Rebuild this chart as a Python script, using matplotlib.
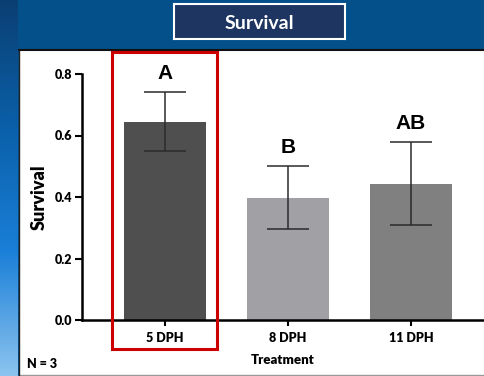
import numpy as np
import matplotlib
matplotlib.use("Agg")
import matplotlib.pyplot as plt
from matplotlib.patches import Rectangle

# data
treatments = ["5 DPH", "8 DPH", "11 DPH"]
survival = [0.645, 0.398, 0.443]
survival_err = [0.096, 0.102, 0.135]
letters = ["A", "B", "AB"]
bar_colors = ["#4f4f4f", "#a1a1a5", "#808080"]

W, H = 484, 376
UI_FONT = "Lato"
fig = plt.figure(figsize=(W / 100, H / 100), dpi=100)
fig.patch.set_facecolor("#03508b")


def px(x, y, w, h):
    """pixel box (top-left origin) -> figure fraction rect"""
    return [x / W, 1 - (y + h) / H, w / W, h / H]


# white slide panel with a dark top edge
bg = fig.add_axes([0, 0, 1, 1], zorder=-5)
bg.set_xlim(0, W)
bg.set_ylim(H, 0)
bg.axis("off")
bg.add_patch(Rectangle((19, 50), W, 330, facecolor="white", edgecolor="none"))
bg.plot([19, W], [50, 50], color="#111111", lw=1.5)
bg.plot([19, W], [375, 375], color="#999999", lw=1)
bg.plot([18.5, 18.5], [50, H], color="#222222", lw=1)

# left gradient strip
strip = fig.add_axes(px(0, 0, 18, H), zorder=-4)
grad = np.linspace(0, 1, 256)[:, None]
cmap = matplotlib.colors.LinearSegmentedColormap.from_list(
    "strip", ["#0a3f73", "#0a5fa8", "#1a7fd8", "#8cc4ef"])
strip.imshow(grad, aspect="auto", cmap=cmap, extent=[0, 1, 1, 0])
strip.axis("off")

# title box
tb = fig.add_axes(px(174, 4, 171, 35), zorder=2)
tb.set_xticks([])
tb.set_yticks([])
tb.set_facecolor("#1f3561")
for s in tb.spines.values():
    s.set_color("white")
    s.set_linewidth(1.5)
tb.text(0.5, 0.44, "Survival", color="white", fontsize=14, fontweight="bold",
        family=UI_FONT, ha="center", va="center", transform=tb.transAxes)

# main chart
ax = fig.add_axes([82 / W, 1 - 320 / H, 1 - 82 / W, (320 - 74) / H])
ax.set_facecolor("none")
x = np.arange(len(treatments))
ax.bar(x, survival, width=0.667, color=bar_colors, zorder=2)
ax.errorbar(x, survival, yerr=survival_err, fmt="none", ecolor="#2b2b2b",
            elinewidth=1.1, capsize=15, capthick=1.1, zorder=3)
for xi, top, e, lab in zip(x, survival, survival_err, letters):
    ax.text(xi, top + e + 0.06, lab, ha="center", va="center", fontsize=15,
            fontweight="bold", family="Liberation Sans")

ax.set_xlim(-0.675, 2.593)
ax.set_ylim(0, 0.8)
ax.set_yticks([0.0, 0.2, 0.4, 0.6, 0.8])
ax.set_yticklabels(["0.0", "0.2", "0.4", "0.6", "0.8"])
ax.set_xticks(x)
ax.set_xticklabels(treatments)
for lab in ax.get_xticklabels() + ax.get_yticklabels():
    lab.set_fontweight("heavy")
    lab.set_family(UI_FONT)
    lab.set_fontsize(9)
ax.tick_params(axis="y", length=5, width=1.5, pad=2)
ax.tick_params(axis="x", length=4, width=1.5, pad=5)
ax.spines["top"].set_visible(False)
ax.spines["right"].set_visible(False)
ax.spines["left"].set_linewidth(1.8)
ax.spines["bottom"].set_linewidth(1.8)
ax.set_ylabel("Survival", fontsize=13, fontweight="heavy", family=UI_FONT, labelpad=5)
ax.set_xlabel("Treatment", fontsize=9.5, fontweight="heavy", family=UI_FONT, labelpad=7)

# highlight around the first treatment, and the sample size note
hl = fig.add_axes([0, 0, 1, 1], zorder=10)
hl.set_xlim(0, W)
hl.set_ylim(H, 0)
hl.axis("off")
hl.add_patch(Rectangle((111.5, 52), 105.5, 297, facecolor="none",
                       edgecolor="#cc0000", lw=2.2))
hl.text(27, 364, "N = 3", fontsize=9, fontweight="heavy", family=UI_FONT,
        va="center", ha="left")

fig.savefig("out.png", dpi=100)
